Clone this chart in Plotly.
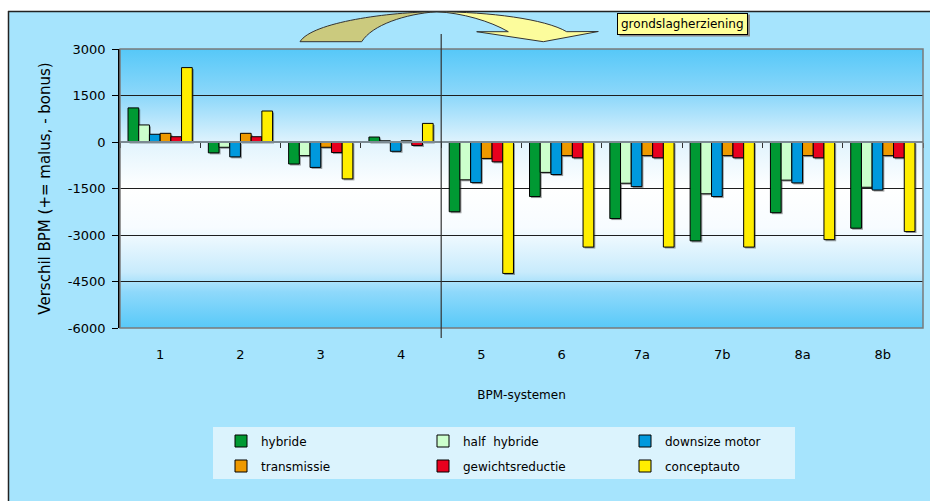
import base64
import plotly.graph_objects as go

# ---------------- data ----------------
categories = ["1", "2", "3", "4", "5", "6", "7a", "7b", "8a", "8b"]
hybride = [1100, -350, -710, 160, -2250, -1760, -2470, -3190, -2280, -2780]
half_hybride = [550, -170, -440, 40, -1220, -980, -1330, -1670, -1230, -1460]
downsize_motor = [250, -480, -820, -300, -1310, -1050, -1440, -1760, -1320, -1550]
transmissie = [280, 280, -170, 40, -530, -440, -440, -440, -440, -440]
gewichtsreductie = [170, 170, -340, -110, -640, -510, -510, -510, -510, -510]
conceptauto = [2400, 1000, -1190, 600, -4240, -3390, -3390, -3390, -3150, -2890]

series_names = ["hybride", "half  hybride", "downsize motor",
                "transmissie", "gewichtsreductie", "conceptauto"]
series_values = [hybride, half_hybride, downsize_motor,
                 transmissie, gewichtsreductie, conceptauto]
series_colors = ["#009933", "#CCFFCC", "#0099DD", "#EE9900", "#E8001E", "#FFEE00"]

y_ticks = [3000, 1500, 0, -1500, -3000, -4500, -6000]
y_ticktext = [str(v) for v in y_ticks]
y_title = "Verschil BPM (+= malus, - bonus)"
x_title = "BPM-systemen"
note_text = "grondslagherziening"

FONT = "DejaVu Sans"
W, H = 930, 501
PL, PR, PT, PB = 120, 923, 49, 328   # plot area in page pixels
YMIN, YMAX = -6000, 3000


def px(x):
    return (x - PL) / (PR - PL)


def py(y):
    return (PB - y) / (PB - PT)


# shadow offsets (1.5 px right / down)
SH = 1.5
dx = SH / ((PR - PL) / len(categories))
dy = SH * (YMAX - YMIN) / (PB - PT)

fig = go.Figure()

# shadows on the base axes
for vals in series_values:
    fig.add_trace(go.Bar(x=categories, y=vals, xaxis="x", yaxis="y",
                         marker=dict(color="rgba(40,40,40,0.45)", line=dict(width=0)),
                         showlegend=False, hoverinfo="skip"))

# real bars on the overlaying axes
for i, (name, vals, col) in enumerate(zip(series_names, series_values, series_colors)):
    fig.add_trace(go.Bar(
        x=categories, y=vals, name=name, xaxis="x2", yaxis="y2",
        marker=dict(color=col, line=dict(color="#000000", width=1)),
        legend="legend" if i < 3 else "legend2",
    ))

# invisible helper trace to anchor the zero-line tick axis
fig.add_trace(go.Scatter(x=categories, y=[None] * len(categories), xaxis="x3", yaxis="y",
                         showlegend=False, hoverinfo="skip", mode="markers"))

# gradient background of the plot area (svg image)
stops = [(0.0, "#56C8F8"), (0.17, "#8ED8FA"), (0.34, "#E2F4FD"), (0.5, "#FFFFFF"),
         (0.64, "#F7FCFF"), (0.8, "#C8EBFC"), (0.87, "#8FD9FB"), (1.0, "#58C9F8")]
stop_svg = "".join(f"<stop offset='{o}' stop-color='{c}'/>" for o, c in stops)
svg = ("<svg xmlns='http://www.w3.org/2000/svg' width='100' height='100' "
       "preserveAspectRatio='none'><defs><linearGradient id='g' x1='0' y1='0' x2='0' y2='1'>"
       + stop_svg + "</linearGradient></defs><rect width='100' height='100' fill='url(#g)'/></svg>")
src = "data:image/svg+xml;base64," + base64.b64encode(svg.encode()).decode()
fig.add_layout_image(dict(source=src, xref="paper", yref="paper", x=0, y=1,
                          sizex=1, sizey=1, sizing="stretch", xanchor="left",
                          yanchor="top", layer="below"))

shapes = []
# white margin outside the outer frame
shapes.append(dict(type="rect", xref="paper", yref="paper", x0=px(-5), x1=px(940),
                   y0=py(11), y1=py(-5), fillcolor="white", line=dict(width=0), layer="below"))
shapes.append(dict(type="rect", xref="paper", yref="paper", x0=px(-5), x1=px(8),
                   y0=py(510), y1=py(11), fillcolor="white", line=dict(width=0), layer="below"))
# outer frame borders
shapes.append(dict(type="line", xref="paper", yref="paper", x0=px(8), x1=px(940),
                   y0=py(11.5), y1=py(11.5), line=dict(color="#222", width=1.5), layer="below"))
shapes.append(dict(type="line", xref="paper", yref="paper", x0=px(8.5), x1=px(8.5),
                   y0=py(11), y1=py(510), line=dict(color="#222", width=1.5), layer="below"))
# legend box
shapes.append(dict(type="rect", xref="paper", yref="paper", x0=px(213), x1=px(795),
                   y0=py(479), y1=py(427), fillcolor="#DBF3FD", line=dict(width=0), layer="below"))
# plot area border
shapes.append(dict(type="rect", xref="paper", yref="paper", x0=0, x1=1, y0=0, y1=1,
                   line=dict(color="#7A7A7A", width=1.5), layer="above"))
# separator line between 4 and 5
shapes.append(dict(type="line", xref="x2", yref="paper", x0=3.5, x1=3.5,
                   y0=py(338), y1=py(34), line=dict(color="#333333", width=1.2), layer="above"))


def P(x, y):
    return f"{px(x):.5f},{py(y):.5f}"


left_path = (f"M{P(300,41.7)} C{P(312,22)} {P(390,12)} {P(436.7,11.7)} "
             f"C{P(405,14)} {P(372,25)} {P(361.7,41.7)} Z")
right_path = (f"M{P(436.7,11.7)} C{P(490,12)} {P(545,19)} {P(566.7,31.7)} "
              f"L{P(598.3,31.5)} L{P(543.3,41.7)} L{P(476.7,31.7)} L{P(508.3,31.7)} "
              f"C{P(490,21)} {P(462,13)} {P(436.7,11.7)} Z")
shapes.append(dict(type="path", xref="paper", yref="paper", path=left_path,
                   fillcolor="#CBCA7E", line=dict(color="#333", width=1), layer="above"))
shapes.append(dict(type="path", xref="paper", yref="paper", path=right_path,
                   fillcolor="#FCFC9C", line=dict(color="#333", width=1), layer="above"))
# note box shadow
shapes.append(dict(type="rect", xref="paper", yref="paper", x0=px(619.5), x1=px(750),
                   y0=py(36.5), y1=py(14.5), fillcolor="#8A8A8A", line=dict(width=0), layer="above"))

fig.update_layout(shapes=shapes)

fig.add_annotation(x=px(682.5), y=py(23.5), xref="paper", yref="paper",
                   text=note_text, showarrow=False,
                   font=dict(family=FONT, size=12, color="#000"),
                   bgcolor="#FFFF99", bordercolor="#000", borderwidth=1, borderpad=3,
                   xanchor="center", yanchor="middle")

hidden = dict(showgrid=False, zeroline=False, showline=False, showticklabels=False, ticks="")

fig.update_layout(
    width=W, height=H,
    margin=dict(l=PL, r=W - PR, t=PT, b=H - PB, pad=0),
    paper_bgcolor="#A6E4FD",
    plot_bgcolor="rgba(0,0,0,0)",
    font=dict(family=FONT, size=12, color="#000"),
    barmode="group", bargap=0.2, bargroupgap=0,
    xaxis=dict(type="category", categoryorder="array", categoryarray=categories,
               range=[-0.5 - dx, len(categories) - 0.5 - dx], **hidden),
    yaxis=dict(range=[YMIN + dy, YMAX + dy], **hidden),
    xaxis2=dict(type="category", categoryorder="array", categoryarray=categories,
                overlaying="x", anchor="y2", side="bottom",
                range=[-0.5, len(categories) - 0.5], showgrid=False, zeroline=False,
                showline=False, ticks="", ticklabelstandoff=17, tickfont=dict(size=13),
                title=dict(text=x_title, standoff=29, font=dict(size=12))),
    yaxis2=dict(overlaying="y", anchor="x2", side="left",
                range=[YMIN, YMAX], tickvals=y_ticks, ticktext=y_ticktext, showgrid=True,
                gridcolor="#1E1E1E", gridwidth=1, zeroline=False,
                showline=True, linecolor="#000", linewidth=1.5,
                ticks="outside", ticklen=6, tickcolor="#000", ticklabelstandoff=4,
                tickfont=dict(size=13),
                title=dict(text=y_title, standoff=14, font=dict(size=15))),
    xaxis3=dict(type="category", categoryorder="array", categoryarray=categories,
                overlaying="x", anchor="free", position=-YMIN / (YMAX - YMIN),
                range=[-0.5, len(categories) - 0.5], showgrid=False, zeroline=False,
                showline=True, linecolor="#7C8A92", linewidth=1.5,
                ticks="outside", tickson="boundaries", ticklen=5, tickcolor="#333",
                showticklabels=False),
    legend=dict(orientation="h", x=px(221), xanchor="left", y=py(441), yanchor="middle",
                bgcolor="rgba(0,0,0,0)", entrywidth=157, entrywidthmode="pixels",
                font=dict(size=12), traceorder="normal"),
    legend2=dict(orientation="h", x=px(221), xanchor="left", y=py(466), yanchor="middle",
                 bgcolor="rgba(0,0,0,0)", entrywidth=157, entrywidthmode="pixels",
                 font=dict(size=12), traceorder="normal"),
    showlegend=True,
)

# remove the default page margin so the figure fills the window exactly
fix_page = ("document.body.style.margin='0';document.body.style.overflow='hidden';"
            "document.documentElement.style.overflow='hidden';")
fig.write_html("out.html", post_script=fix_page, config={"displayModeBar": False})
